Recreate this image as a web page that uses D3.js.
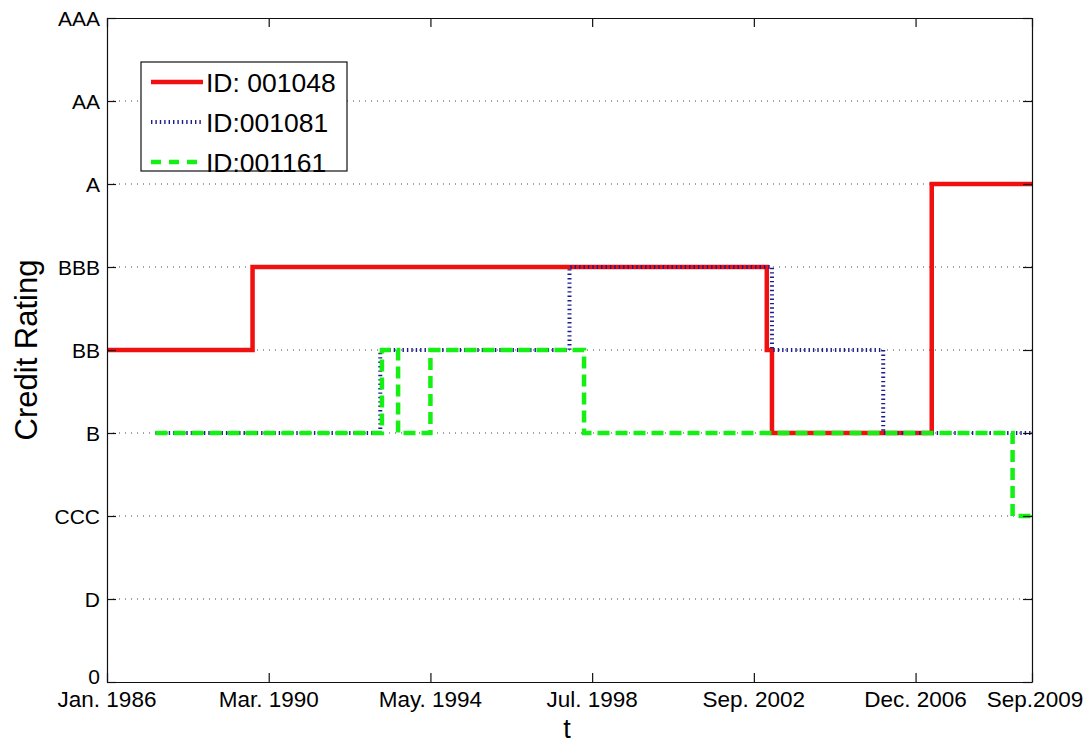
<!DOCTYPE html>
<html>
<head>
<meta charset="utf-8">
<script src="https://cdn.jsdelivr.net/npm/d3@7"></script>
<style>
  body { margin: 0; background: #fff; }
  svg { display: block; font-family: "Liberation Sans", Arial, Helvetica, sans-serif; }
</style>
</head>
<body>
<svg id="chart" width="1090" height="745"></svg>
<script>
// Rating scale, lowest to highest (index = numeric level)
const ratingLabels = ["0", "D", "CCC", "B", "BB", "BBB", "A", "AA", "AAA"];

// Time axis: months counted from Jan. 1986
const monthTicks = [0, 50, 100, 150, 200, 250, 286];
const monthTickLabels = ["Jan. 1986", "Mar. 1990", "May. 1994", "Jul. 1998", "Sep. 2002", "Dec. 2006", "Sep.2009"];

// Rating histories as [month, rating level] change points (last point closes the step)
const ratings001048 = [[0, 4], [45, 5], [204, 4], [205.6, 3], [255, 6], [286, 6]];
const ratings001081 = [[15, 3], [84.5, 4], [143, 5], [205.6, 4], [240, 3], [286, 3]];
const ratings001161 = [[15, 3], [85, 4], [90, 3], [100, 4], [147.5, 3], [280, 2], [286, 2]];

const seriesNames = ["ID: 001048", "ID:001081", "ID:001161"];

const svg = d3.select("#chart");
svg.append("rect").attr("width", 1090).attr("height", 745).attr("fill", "#fff");

const plotLeft = 107, plotRight = 1032, plotTop = 18, plotBottom = 682;

const x = d3.scaleLinear().domain([0, 286]).range([plotLeft, plotRight]);
const y = d3.scaleLinear().domain([0, ratingLabels.length - 1]).range([plotBottom, plotTop]);

const levels = d3.range(ratingLabels.length);

// Dotted horizontal grid
svg.append("g")
  .selectAll("line")
  .data(levels.filter(d => d > 0 && d < ratingLabels.length - 1))
  .join("line")
  .attr("x1", plotLeft).attr("x2", plotRight)
  .attr("y1", d => y(d)).attr("y2", d => y(d))
  .attr("stroke", "#444")
  .attr("stroke-width", 1)
  .attr("stroke-dasharray", "1,5");

// Step lines
const line = d3.line()
  .x(d => x(d[0]))
  .y(d => y(d[1]))
  .curve(d3.curveStepAfter);

const styles = [
  { data: ratings001048, color: "#f01010", width: 4.5, dash: null },
  { data: ratings001081, color: "#1c1c8c", width: 4, dash: "1.4,3" },
  { data: ratings001161, color: "#14f014", width: 4.5, dash: "12,6" }
];

svg.append("g")
  .selectAll("path")
  .data(styles)
  .join("path")
  .attr("d", d => line(d.data))
  .attr("fill", "none")
  .attr("stroke", d => d.color)
  .attr("stroke-width", d => d.width)
  .attr("stroke-dasharray", d => d.dash)
  .attr("stroke-linejoin", "miter");

// Box axes with inward ticks
const tickLen = 9;

const yLeft = svg.append("g").attr("transform", `translate(${plotLeft},0)`)
  .call(d3.axisRight(y).tickValues(levels).tickFormat("").tickSize(tickLen).tickSizeOuter(0));
const yRight = svg.append("g").attr("transform", `translate(${plotRight},0)`)
  .call(d3.axisLeft(y).tickValues(levels).tickFormat("").tickSize(tickLen).tickSizeOuter(0));
const xBottom = svg.append("g").attr("transform", `translate(0,${plotBottom})`)
  .call(d3.axisTop(x).tickValues(monthTicks).tickFormat("").tickSize(tickLen).tickSizeOuter(0));
const xTop = svg.append("g").attr("transform", `translate(0,${plotTop})`)
  .call(d3.axisBottom(x).tickValues(monthTicks).tickFormat("").tickSize(tickLen).tickSizeOuter(0));

[yLeft, yRight, xBottom, xTop].forEach(g => {
  g.selectAll("path.domain").attr("stroke", "#111").attr("stroke-width", 1.2);
  g.selectAll(".tick line").attr("stroke", "#111").attr("stroke-width", 1.2);
});

// Y tick labels (the lowest one sits slightly higher, clear of the date labels)
svg.append("g")
  .selectAll("text")
  .data(levels)
  .join("text")
  .attr("x", plotLeft - 7)
  .attr("y", d => y(d) - (d === 0 ? 6 : 0))
  .attr("dy", "0.36em")
  .attr("text-anchor", "end")
  .attr("font-size", 21)
  .attr("fill", "#000")
  .text(d => ratingLabels[d]);

// X tick labels
svg.append("g")
  .selectAll("text")
  .data(monthTicks)
  .join("text")
  .attr("x", (d, i) => x(d) + (i === monthTicks.length - 1 ? 3 : 0))
  .attr("y", 707)
  .attr("text-anchor", "middle")
  .attr("font-size", 22.5)
  .attr("fill", "#000")
  .text((d, i) => monthTickLabels[i]);

// Axis titles
svg.append("text")
  .attr("x", 567).attr("y", 738)
  .attr("text-anchor", "middle")
  .attr("font-size", 27)
  .text("t");

svg.append("text")
  .attr("transform", "translate(37,350) rotate(-90)")
  .attr("text-anchor", "middle")
  .attr("font-size", 31)
  .text("Credit Rating");

// Legend
const legend = svg.append("g");
legend.append("rect")
  .attr("x", 141).attr("y", 62).attr("width", 206).attr("height", 109)
  .attr("fill", "#fff").attr("stroke", "#111").attr("stroke-width", 1.2);

const rows = legend.selectAll("g.row")
  .data(styles)
  .join("g")
  .attr("class", "row")
  .attr("transform", (d, i) => `translate(0,${82 + i * 40})`);

rows.append("line")
  .attr("x1", 151).attr("x2", 203).attr("y1", 0).attr("y2", 0)
  .attr("stroke", d => d.color)
  .attr("stroke-width", d => d.width)
  .attr("stroke-dasharray", d => d.dash === "12,6" ? "10,8" : d.dash);

rows.append("text")
  .attr("x", 206).attr("y", 0).attr("dy", "0.36em")
  .attr("font-size", 26.5)
  .text((d, i) => seriesNames[i]);
</script>
</body>
</html>
